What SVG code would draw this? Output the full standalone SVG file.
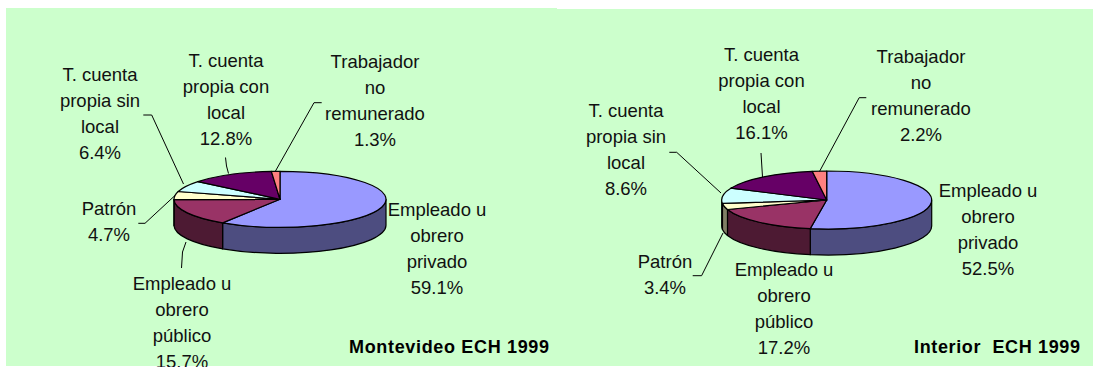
<svg xmlns="http://www.w3.org/2000/svg" width="1093" height="367" viewBox="0 0 1093 367">
<style>
.bg{fill:#CCFFCC}
.sl{stroke:#000;stroke-width:1.2;stroke-linejoin:round}
.lbl{font-family:"Liberation Sans",Arial,sans-serif;font-size:18.5px;fill:#111;text-anchor:middle}
.ttl{font-family:"Liberation Sans",Arial,sans-serif;font-size:18px;font-weight:bold;fill:#000}
.ld{fill:none;stroke:#000;stroke-width:1}
.c1{fill:#9999FF}.s1{fill:#4D4D80}
.c2{fill:#993366}.s2{fill:#4D1A33}
.c3{fill:#FFFFCC}.s3{fill:#808066}
.c4{fill:#CCFFFF}.s4{fill:#668080}
.c5{fill:#660066}
.c6{fill:#FF8080}
</style>
<rect class="bg" x="6" y="8" width="551" height="358"/>
<rect class="bg" x="557" y="9" width="536" height="357"/>

<g id="montevideo">
  <g id="mv-privado">
    <path class="sl s1" d="M386 199.3 A106 28 0 0 1 222.64 222.85 L222.64 248.85 A106 28 0 0 0 386 225.3 Z"/>
    <path class="sl c1" d="M280 199.3 L280 171.3 A106 28 0 1 1 222.64 222.85 Z"/>
    <text class="lbl" x="437" y="215.5">Empleado u<tspan x="437" dy="26">obrero</tspan><tspan x="437" dy="26">privado</tspan><tspan x="437" dy="26">59.1%</tspan></text>
  </g>
  <g id="mv-publico">
    <path class="sl s2" d="M222.64 222.85 A106 28 0 0 1 174.01 199.65 L174.01 225.65 A106 28 0 0 0 222.64 248.85 Z"/>
    <path class="sl c2" d="M280 199.3 L222.64 222.85 A106 28 0 0 1 174.01 199.65 Z"/>
    <text class="lbl" x="182" y="290">Empleado u<tspan x="182" dy="26">obrero</tspan><tspan x="182" dy="26">público</tspan><tspan x="182" dy="26">15.7%</tspan></text>
  </g>
  <g id="mv-patron">
    <path class="sl s3" d="M174.01 199.65 A106 28 0 0 1 174 199.3 L174 225.3 A106 28 0 0 0 174.01 225.65 Z"/>
    <path class="sl c3" d="M280 199.3 L174.01 199.65 A106 28 0 0 1 178.21 191.49 Z"/>
    <text class="lbl" x="109" y="215">Patrón<tspan x="109" dy="26">4.7%</tspan></text>
  </g>
  <g id="mv-sinlocal">
    <path class="sl c4" d="M280 199.3 L178.21 191.49 A106 28 0 0 1 197.9 181.59 Z"/>
    <text class="lbl" x="100" y="80.7">T. cuenta<tspan x="100" dy="26">propia sin</tspan><tspan x="100" dy="26">local</tspan><tspan x="100" dy="26">6.4%</tspan></text>
  </g>
  <g id="mv-conlocal">
    <path class="sl c5" d="M280 199.3 L197.9 181.59 A106 28 0 0 1 271.35 171.39 Z"/>
    <text class="lbl" x="226" y="67.2">T. cuenta<tspan x="226" dy="26">propia con</tspan><tspan x="226" dy="26">local</tspan><tspan x="226" dy="26">12.8%</tspan></text>
  </g>
  <g id="mv-norem">
    <path class="sl c6" d="M280 199.3 L271.35 171.39 A106 28 0 0 1 280 171.3 Z"/>
    <text class="lbl" x="375" y="68.3">Trabajador<tspan x="375" dy="26">no</tspan><tspan x="375" dy="26">remunerado</tspan><tspan x="375" dy="26">1.3%</tspan></text>
  </g>
  <text id="mv-title" class="ttl" x="349" y="353" textLength="200" lengthAdjust="spacing">Montevideo ECH 1999</text>
</g>

<g id="interior">
  <g id="in-privado">
    <path class="sl s1" d="M931.7 200 A105 29 0 0 1 810.27 228.64 L810.27 254.64 A105 29 0 0 0 931.7 226 Z"/>
    <path class="sl c1" d="M826.7 200 L826.7 171 A105 29 0 1 1 810.27 228.64 Z"/>
    <text class="lbl" x="988" y="196.5">Empleado u<tspan x="988" dy="26">obrero</tspan><tspan x="988" dy="26">privado</tspan><tspan x="988" dy="26">52.5%</tspan></text>
  </g>
  <g id="in-publico">
    <path class="sl s2" d="M810.27 228.64 A105 29 0 0 1 727.47 209.48 L727.47 235.48 A105 29 0 0 0 810.27 254.64 Z"/>
    <path class="sl c2" d="M826.7 200 L810.27 228.64 A105 29 0 0 1 727.47 209.48 Z"/>
    <text class="lbl" x="784" y="276">Empleado u<tspan x="784" dy="26">obrero</tspan><tspan x="784" dy="26">público</tspan><tspan x="784" dy="26">17.2%</tspan></text>
  </g>
  <g id="in-patron">
    <path class="sl s3" d="M727.47 209.48 A105 29 0 0 1 722.45 203.45 L722.45 229.45 A105 29 0 0 0 727.47 235.48 Z"/>
    <path class="sl c3" d="M826.7 200 L727.47 209.48 A105 29 0 0 1 722.45 203.45 Z"/>
    <text class="lbl" x="665" y="268">Patrón<tspan x="665" dy="26">3.4%</tspan></text>
  </g>
  <g id="in-sinlocal">
    <path class="sl s4" d="M722.45 203.45 A105 29 0 0 1 721.7 200 L721.7 226 A105 29 0 0 0 722.45 229.45 Z"/>
    <path class="sl c4" d="M826.7 200 L722.45 203.45 A105 29 0 0 1 730.87 188.15 Z"/>
    <text class="lbl" x="626" y="116.7">T. cuenta<tspan x="626" dy="26">propia sin</tspan><tspan x="626" dy="26">local</tspan><tspan x="626" dy="26">8.6%</tspan></text>
  </g>
  <g id="in-conlocal">
    <path class="sl c5" d="M826.7 200 L730.87 188.15 A105 29 0 0 1 812.23 171.28 Z"/>
    <text class="lbl" x="761.5" y="61.3">T. cuenta<tspan x="761.5" dy="26">propia con</tspan><tspan x="761.5" dy="26">local</tspan><tspan x="761.5" dy="26">16.1%</tspan></text>
  </g>
  <g id="in-norem">
    <path class="sl c6" d="M826.7 200 L812.23 171.28 A105 29 0 0 1 826.7 171 Z"/>
    <text class="lbl" x="921" y="63">Trabajador<tspan x="921" dy="26">no</tspan><tspan x="921" dy="26">remunerado</tspan><tspan x="921" dy="26">2.2%</tspan></text>
  </g>
  <text id="in-title" class="ttl" x="914" y="353" textLength="166" lengthAdjust="spacing">Interior&#160; ECH 1999</text>
</g>

<g id="connectors">
  <polyline class="ld" points="143.3,115 151.7,115 183.5,184"/>
  <polyline class="ld" points="225.5,157.5 226.5,166 228.5,173.5"/>
  <polyline class="ld" points="321.7,102.7 314,102.7 275.5,171"/>
  <polyline class="ld" points="138.3,223.3 145,223.3 175,195.5"/>
  <polyline class="ld" points="181.5,268 182.5,252 186,242"/>
  <polyline class="ld" points="669.3,152.3 676.7,152.3 721,193"/>
  <polyline class="ld" points="761,153 762.5,177"/>
  <polyline class="ld" points="866.3,97.7 859.2,97.7 819.5,171.5"/>
  <polyline class="ld" points="692.7,275.7 701.6,275.7 723,233"/>
</g>
</svg>
